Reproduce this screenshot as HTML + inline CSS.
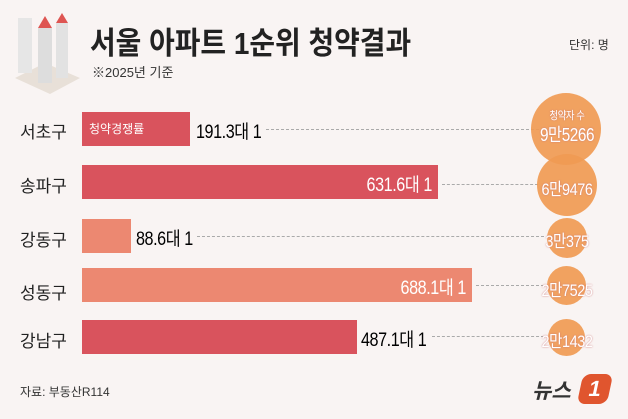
<!DOCTYPE html><html><head><meta charset="utf-8"><style>
body{margin:0;width:628px;height:419px;background:#f9f4f3;font-family:"Liberation Sans","Noto Sans CJK KR",sans-serif;position:relative;overflow:hidden}
.a{position:absolute;white-space:nowrap}
.bar{position:absolute;left:82px;height:34px}
.lab{position:absolute;left:20px;font-size:17px;color:#222}
.val{position:absolute;font-size:19px;letter-spacing:-0.5px;transform:scaleX(.85);white-space:nowrap}
.vl{transform-origin:left center}
.vr{transform-origin:right center;text-align:right}
.dot{position:absolute;border-top:1px dashed #aaa;height:0}
.c{position:absolute;border-radius:50%;background:rgba(240,154,84,.92)}
.n{position:absolute;width:80px;text-align:center;color:#fff;font-size:17px;text-shadow:0 0 2px #c77;transform:scaleX(.85);letter-spacing:-0.5px}
</style></head><body>
<svg class="a" style="left:10px;top:8px" width="70" height="90"><polygon points="5,70 40,86 70,70 35,55" fill="#e8e0d8"/><rect x="8" y="10" width="14" height="55" fill="#e6e6e6"/><rect x="28" y="20" width="14" height="55" fill="#ddd"/><rect x="46" y="15" width="12" height="55" fill="#e2e2e2"/><polygon points="28,20 35,8 42,20" fill="#de5552"/><polygon points="46,15 52,5 58,15" fill="#de5552"/></svg>
<div class="a" style="left:90px;top:18px;font-size:31px;font-weight:bold;color:#222;transform:scaleX(.9);transform-origin:left">서울 아파트 1순위 청약결과</div>
<div class="a" style="left:92px;top:62px;font-size:13px;color:#333">※2025년 기준</div>
<div class="a" style="left:569px;top:36px;font-size:12px;color:#333">단위: 명</div>
<div class="dot" style="left:266px;width:278px;top:129px"></div>
<div class="dot" style="left:442px;width:96px;top:184px"></div>
<div class="dot" style="left:197px;width:347px;top:236px"></div>
<div class="dot" style="left:476px;width:68px;top:285px"></div>
<div class="dot" style="left:432px;width:112px;top:336px"></div>
<div class="lab" style="top:118px">서초구</div>
<div class="lab" style="top:172px">송파구</div>
<div class="lab" style="top:226px">강동구</div>
<div class="lab" style="top:279px">성동구</div>
<div class="lab" style="top:327px">강남구</div>
<div class="bar" style="top:112px;width:108px;background:#d9535d"></div>
<div class="a" style="left:89px;top:120px;font-size:12px;color:#fff">청약경쟁률</div>
<div class="val vl" style="left:196px;top:117px">191.3대 1</div>
<div class="bar" style="top:165px;width:356px;background:#d9535d"></div>
<div class="val vr" style="right:196px;top:170px;color:#fff">631.6대 1</div>
<div class="bar" style="top:219px;width:49px;background:#ec8871"></div>
<div class="val vl" style="left:136px;top:224px">88.6대 1</div>
<div class="bar" style="top:268px;width:390px;background:#ec8871"></div>
<div class="val vr" style="right:162px;top:273px;color:#fff">688.1대 1</div>
<div class="bar" style="top:320px;width:275px;background:#d9535d"></div>
<div class="val vl" style="left:361px;top:325px">487.1대 1</div>
<div class="c" style="left:531px;top:93px;width:70px;height:72px"></div>
<div class="c" style="left:537px;top:154px;width:60px;height:62px"></div>
<div class="c" style="left:547px;top:218px;width:40px;height:40px"></div>
<div class="c" style="left:547px;top:266px;width:39px;height:39px"></div>
<div class="c" style="left:548px;top:319px;width:37px;height:37px"></div>
<div class="n" style="left:527px;top:107px;font-size:11px">청약자 수</div>
<div class="n" style="left:527px;top:121px;font-size:18px">9만5266</div>
<div class="n" style="left:527px;top:175px">6만9476</div>
<div class="n" style="left:527px;top:227px">3만375</div>
<div class="n" style="left:527px;top:276px">2만7525</div>
<div class="n" style="left:527px;top:327px">2만1432</div>
<div class="a" style="left:20px;top:383px;font-size:12px;color:#333">자료: 부동산R114</div>
<div class="a" style="left:532px;top:375px;font-size:21px;font-weight:bold;font-style:italic;color:#333">뉴스</div>
<div class="a" style="left:580px;top:374px;width:30px;height:30px;background:#e0552e;border-radius:8px;transform:skewX(-12deg);color:#fff;font-weight:bold;font-size:22px;text-align:center;line-height:30px">1</div>
</body></html>
